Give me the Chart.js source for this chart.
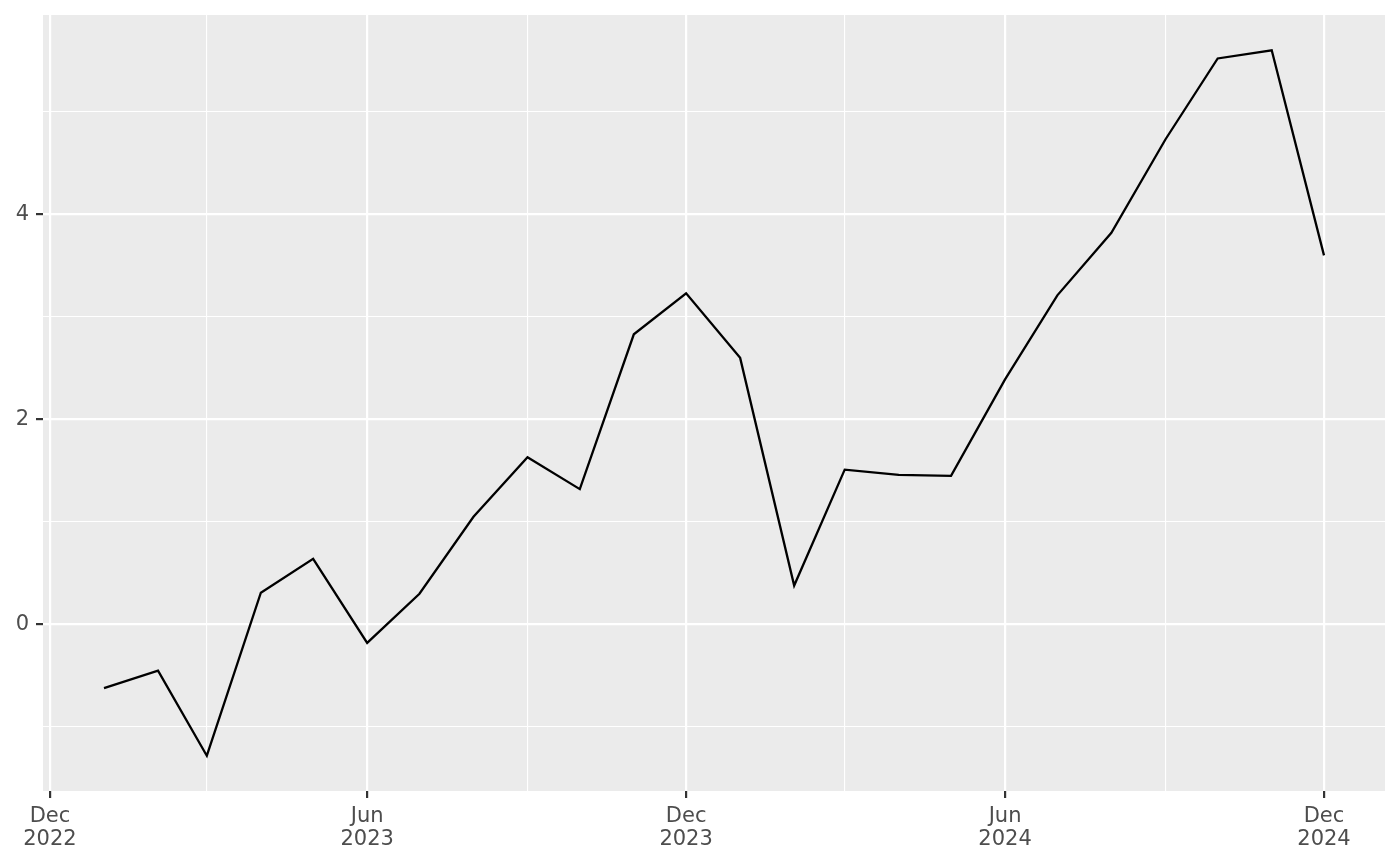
<!DOCTYPE html>
<html>
<head>
<meta charset="utf-8">
<script src="https://cdn.jsdelivr.net/npm/chart.js@4/dist/chart.umd.min.js"></script>
<style>
  html, body { margin: 0; padding: 0; background: #fff; }
  #wrap { width: 1400px; height: 866px; }
</style>
</head>
<body>
<div id="wrap"><canvas id="chart"></canvas></div>
<script>
// monthly series, Jan 2023 .. Dec 2024
const months = [
  '2023-01', '2023-02', '2023-03', '2023-04', '2023-05', '2023-06',
  '2023-07', '2023-08', '2023-09', '2023-10', '2023-11', '2023-12',
  '2024-01', '2024-02', '2024-03', '2024-04', '2024-05', '2024-06',
  '2024-07', '2024-08', '2024-09', '2024-10', '2024-11', '2024-12'
];
const values = [
  -0.62, -0.45, -1.28, 0.31, 0.64, -0.18,
  0.30, 1.05, 1.63, 1.32, 2.83, 3.23,
  2.60, 0.38, 1.51, 1.46, 1.45, 2.39,
  3.21, 3.82, 4.73, 5.52, 5.60, 3.60
];
// x axis breaks (major get labels, minor only grid lines)
const xMajor = ['2022-12', '2023-06', '2023-12', '2024-06', '2024-12'];
const xMinor = ['2023-03', '2023-09', '2024-03', '2024-09'];
const yMajor = [0, 2, 4];
const yMinor = [-1, 1, 3, 5];
const monthNames = ['Jan','Feb','Mar','Apr','May','Jun','Jul','Aug','Sep','Oct','Nov','Dec'];

function toDay(s) {
  const [y, m] = s.split('-').map(Number);
  return Date.UTC(y, m - 1, 1) / 86400000;
}

const points = months.map((m, i) => ({ x: toDay(m), y: values[i] }));
const xs = points.map(p => p.x);
const ys = values;
const xPad = (Math.max(...xs) - Math.min(...xs)) * 0.05;
const yPad = (Math.max(...ys) - Math.min(...ys)) * 0.05;

const majorDays = xMajor.map(toDay);

const panelBg = {
  id: 'panelBg',
  beforeDraw(chart) {
    const { ctx, chartArea: a } = chart;
    ctx.save();
    ctx.fillStyle = '#EBEBEB';
    ctx.fillRect(a.left, a.top, a.right - a.left, a.bottom - a.top);
    ctx.restore();
  }
};

const isMajorX = v => majorDays.includes(v);
const isMajorY = v => yMajor.includes(v);

new Chart(document.getElementById('chart'), {
  type: 'line',
  plugins: [panelBg],
  data: {
    datasets: [{
      data: points,
      borderColor: '#000000',
      borderWidth: 2.3,
      pointRadius: 0,
      tension: 0,
      fill: false
    }]
  },
  options: {
    responsive: true,
    maintainAspectRatio: false,
    animation: false,
    layout: { padding: { top: 15, right: 15, left: 0, bottom: 0 } },
    plugins: { legend: { display: false }, tooltip: { enabled: false } },
    scales: {
      x: {
        type: 'linear',
        min: Math.min(...xs) - xPad,
        max: Math.max(...xs) + xPad,
        afterBuildTicks: s => {
          s.ticks = [...xMajor, ...xMinor].map(toDay).sort((a, b) => a - b).map(v => ({ value: v }));
        },
        afterFit: s => { s.height = 75; s.paddingLeft = 0; s.paddingRight = 0; },
        border: { display: false },
        grid: {
          color: '#FFFFFF',
          lineWidth: c => isMajorX(c.tick.value) ? 2.2 : 1.1,
          tickLength: 7,
          tickColor: c => isMajorX(c.tick.value) ? '#333333' : 'rgba(0,0,0,0)',
          tickWidth: 2.2
        },
        ticks: {
          autoSkip: false,
          maxRotation: 0,
          padding: 7,
          color: '#4D4D4D',
          font: { family: 'DejaVu Sans', size: 21, lineHeight: 1.1 },
          callback: v => {
            if (!isMajorX(v)) return '';
            const d = new Date(v * 86400000);
            return [monthNames[d.getUTCMonth()], String(d.getUTCFullYear())];
          }
        }
      },
      y: {
        type: 'linear',
        min: Math.min(...ys) - yPad,
        max: Math.max(...ys) + yPad,
        afterBuildTicks: s => {
          s.ticks = [...yMinor, ...yMajor].sort((a, b) => a - b).map(v => ({ value: v }));
        },
        afterFit: s => { s.width = 43; s.paddingTop = 0; s.paddingBottom = 0; },
        border: { display: false },
        grid: {
          color: '#FFFFFF',
          lineWidth: c => isMajorY(c.tick.value) ? 2.2 : 1.1,
          tickLength: 7,
          tickColor: c => isMajorY(c.tick.value) ? '#333333' : 'rgba(0,0,0,0)',
          tickWidth: 2.2
        },
        ticks: {
          padding: 7,
          color: '#4D4D4D',
          font: { family: 'DejaVu Sans', size: 21 },
          callback: v => isMajorY(v) ? String(v) : ''
        }
      }
    }
  }
});
</script>
</body>
</html>
